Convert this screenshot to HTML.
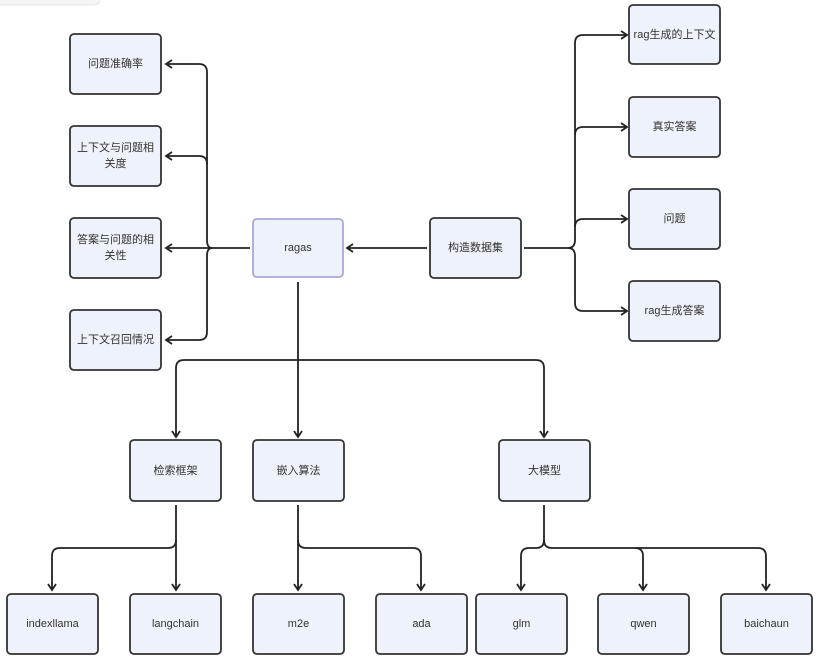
<!DOCTYPE html>
<html><head><meta charset="utf-8"><style>
html,body{margin:0;padding:0;background:#fff;}
svg{display:block;}
text{font-family:"Liberation Sans","Noto Sans CJK SC",sans-serif;font-size:11px;fill:#333;text-anchor:middle;dominant-baseline:central;}
.b{fill:#eef2fa;stroke:#333;stroke-width:1.8;}
.l{fill:none;stroke:#222;stroke-width:1.8;}
</style></head><body>
<svg width="821" height="663" viewBox="0 0 821 663" xmlns="http://www.w3.org/2000/svg">
<defs><marker id="a" markerWidth="10" markerHeight="10" refX="8" refY="5" orient="auto" markerUnits="userSpaceOnUse"><path d="M2,1 L8,5 L2,9" fill="none" stroke="#222" stroke-width="1.8"/></marker></defs>
<rect x="-10" y="-10" width="110" height="15" rx="6" fill="#f4f4f4" stroke="#e6e6e6"/>

<!-- left fan -->
<path class="l" d="M250,248 H212" />
<path class="l" d="M212,248 Q207,248 207,240 V72 Q207,64 199,64 H166" marker-end="url(#a)"/>
<path class="l" d="M207,164 Q207,156 199,156 H166" marker-end="url(#a)"/>
<path class="l" d="M212,248 H166" marker-end="url(#a)"/>
<path class="l" d="M212,248 Q207,248 207,256 V332 Q207,340 199,340 H166" marker-end="url(#a)"/>

<!-- 构造数据集 -> ragas -->
<path class="l" d="M427,248 H347" marker-end="url(#a)"/>
<!-- right fan -->
<path class="l" d="M524,248 H568 Q575,248 575,240 V43 Q575,35 583,35 H627" marker-end="url(#a)"/>
<path class="l" d="M575,135 Q575,127 583,127 H627" marker-end="url(#a)"/>
<path class="l" d="M575,227 Q575,219 583,219 H627" marker-end="url(#a)"/>
<path class="l" d="M568,248 Q575,248 575,256 V303 Q575,311 583,311 H627" marker-end="url(#a)"/>

<!-- ragas down -->
<path class="l" d="M298,282 V437" marker-end="url(#a)"/>
<path class="l" d="M298,360 H184 Q176,360 176,368 V437" marker-end="url(#a)"/>
<path class="l" d="M298,360 H536 Q544,360 544,368 V437" marker-end="url(#a)"/>

<!-- 检索框架 -->
<path class="l" d="M176,505 V590" marker-end="url(#a)"/>
<path class="l" d="M176,540 Q176,548 168,548 H60 Q52,548 52,556 V590" marker-end="url(#a)"/>
<!-- 嵌入算法 -->
<path class="l" d="M298,505 V590" marker-end="url(#a)"/>
<path class="l" d="M298,540 Q298,548 306,548 H413 Q421,548 421,556 V590" marker-end="url(#a)"/>
<!-- 大模型 -->
<path class="l" d="M544,505 V540 Q544,548 536,548 H529 Q521,548 521,556 V590" marker-end="url(#a)"/>
<path class="l" d="M544,540 Q544,548 552,548 H635 Q643,548 643,556 V590" marker-end="url(#a)"/>
<path class="l" d="M635,548 H758 Q766,548 766,556 V590" marker-end="url(#a)"/>

<!-- boxes left -->
<rect class="b" x="70" y="34" width="91" height="60" rx="4"/><text x="115.5" y="64">问题准确率</text>
<rect class="b" x="70" y="126" width="91" height="60" rx="4"/><text x="115.5" y="148">上下文与问题相</text><text x="115.5" y="164">关度</text>
<rect class="b" x="70" y="218" width="91" height="60" rx="4"/><text x="115.5" y="240">答案与问题的相</text><text x="115.5" y="256">关性</text>
<rect class="b" x="70" y="310" width="91" height="60" rx="4"/><text x="115.5" y="340">上下文召回情况</text>

<rect x="253" y="219" width="90" height="58" rx="4" fill="#eef2fa" stroke="#a8a8d8" stroke-width="1.8"/><text x="298" y="248">ragas</text>
<rect class="b" x="430" y="218" width="91" height="60" rx="4"/><text x="475.5" y="248">构造数据集</text>

<rect class="b" x="629" y="5" width="91" height="59" rx="4"/><text x="674.5" y="35">rag生成的上下文</text>
<rect class="b" x="629" y="97" width="91" height="60" rx="4"/><text x="674.5" y="127">真实答案</text>
<rect class="b" x="629" y="189" width="91" height="60" rx="4"/><text x="674.5" y="219">问题</text>
<rect class="b" x="629" y="281" width="91" height="60" rx="4"/><text x="674.5" y="311">rag生成答案</text>

<rect class="b" x="130" y="440" width="91" height="61" rx="4"/><text x="175.5" y="471">检索框架</text>
<rect class="b" x="253" y="440" width="91" height="61" rx="4"/><text x="298.5" y="471">嵌入算法</text>
<rect class="b" x="499" y="440" width="91" height="61" rx="4"/><text x="544.5" y="471">大模型</text>

<rect class="b" x="7" y="594" width="91" height="60" rx="4"/><text x="52.5" y="624">indexllama</text>
<rect class="b" x="130" y="594" width="91" height="60" rx="4"/><text x="175.5" y="624">langchain</text>
<rect class="b" x="253" y="594" width="91" height="60" rx="4"/><text x="298.5" y="624">m2e</text>
<rect class="b" x="376" y="594" width="91" height="60" rx="4"/><text x="421.5" y="624">ada</text>
<rect class="b" x="476" y="594" width="91" height="60" rx="4"/><text x="521.5" y="624">glm</text>
<rect class="b" x="598" y="594" width="91" height="60" rx="4"/><text x="643.5" y="624">qwen</text>
<rect class="b" x="721" y="594" width="91" height="60" rx="4"/><text x="766.5" y="624">baichaun</text>
</svg>
</body></html>
